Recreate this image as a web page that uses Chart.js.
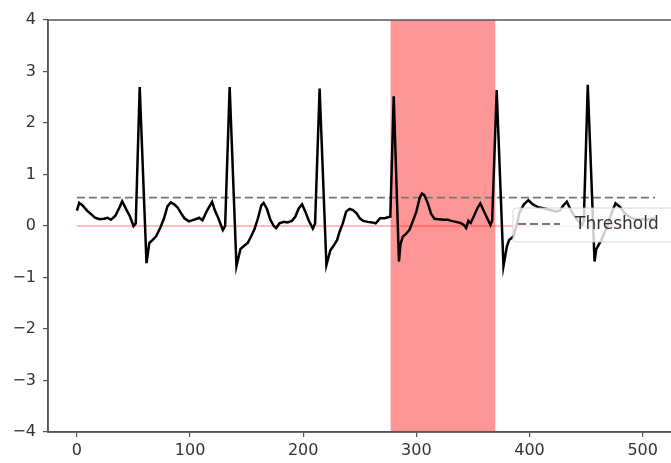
<!DOCTYPE html>
<html>
<head>
<meta charset="utf-8">
<script src="https://cdn.jsdelivr.net/npm/chart.js@4/dist/chart.umd.min.js"></script>
<style>
  html, body { margin: 0; padding: 0; background: #fff; overflow: hidden; }
</style>
</head>
<body>
<canvas id="graphCanvas" width="690" height="463"></canvas>
<script>
// ECG trace (sample index, value)
let ecgX = [0, 2, 5, 9, 13, 16, 20, 24, 27, 30, 34, 38, 40, 43, 47, 50, 52, 55.5, 61.5, 64, 67, 70, 74, 77, 80, 83, 86, 89, 92, 95, 99,
    103, 106, 108, 111, 115, 119.5, 122, 125, 129, 131, 135, 141, 144.5, 148, 151, 154, 157, 160, 163, 165, 168, 171, 174, 176,
    179, 183, 186, 190, 193, 196, 199, 202, 205, 208.5, 210.5, 214.5, 220.5, 224, 227, 230, 232, 235, 238, 241, 244, 247, 250,
    253, 257, 261, 264, 266, 268, 272, 275, 277, 280, 284.6, 286, 288, 291, 294, 297, 300, 303, 305, 307, 310, 313, 316, 320,
    324, 328, 331, 335, 339, 342, 344, 346, 348, 351, 354, 356.5, 359, 362, 365.5, 367, 371, 377, 380, 382, 386, 389, 391, 395,
    399, 403, 407, 411, 415, 420, 424, 427, 430, 433, 435, 438, 442, 446.5, 448, 451.5, 457.5, 459, 461, 464, 468.5, 472, 476,
    480, 484, 488, 492, 496, 500, 504, 508, 511];
let ecgY = [0.30, 0.45, 0.40, 0.30, 0.22, 0.16, 0.13, 0.14, 0.16, 0.12, 0.20, 0.38, 0.48, 0.35, 0.18, 0.00, 0.05, 2.70, -0.72, -0.33, -0.27, -0.20, -0.02, 0.15, 0.38, 0.46, 0.42, 0.36, 0.25, 0.15, 0.09,
    0.12, 0.14, 0.16, 0.11, 0.30, 0.47, 0.30, 0.15, -0.08, 0.00, 2.70, -0.78, -0.45, -0.38, -0.33, -0.20, -0.06, 0.15, 0.40, 0.45, 0.33, 0.12, 0.00, -0.04,
    0.05, 0.08, 0.07, 0.10, 0.18, 0.34, 0.42, 0.27, 0.10, -0.05, 0.05, 2.67, -0.76, -0.47, -0.38, -0.27, -0.12, 0.05, 0.28, 0.33, 0.31, 0.25, 0.15,
    0.10, 0.08, 0.07, 0.05, 0.10, 0.15, 0.15, 0.17, 0.18, 2.52, -0.69, -0.35, -0.21, -0.15, -0.07, 0.10, 0.28, 0.55, 0.63, 0.60, 0.45, 0.24, 0.14, 0.13,
    0.12, 0.12, 0.10, 0.08, 0.06, 0.02, -0.04, 0.10, 0.06, 0.20, 0.35, 0.44, 0.32, 0.18, 0.02, 0.10, 2.64, -0.78, -0.40, -0.27, -0.20, 0.05, 0.25, 0.42,
    0.50, 0.42, 0.37, 0.35, 0.33, 0.30, 0.28, 0.30, 0.40, 0.47, 0.38, 0.25, 0.12, 0.02, 0.10, 2.74, -0.69, -0.45, -0.37, -0.25, -0.01, 0.22, 0.44,
    0.37, 0.25, 0.18, 0.14, 0.12, 0.13, 0.12, 0.14, 0.15];

let threshold = 0.55;
let baseline = 0;
let traceStart = 0;
let traceEnd = 511;
let anomalyStart = 277; // red band
let anomalyEnd = 370;

let xTicks = [0, 100, 200, 300, 400, 500];
let yTicks = [-4, -3, -2, -1, 0, 1, 2, 3, 4];

let tickFont = { family: 'DejaVu Sans', size: 16 };
let axisColor = '#555';

let ecgPoints = [];
for (let i = 0; i < ecgX.length; i++) {
    ecgPoints.push({ x: ecgX[i], y: ecgY[i] });
}

// matplotlib style minus sign
function minusLabel(v) {
    return String(v).replace('-', '\u2212');
}

// frame round the plot (matplotlib spines)
let framePlugin = {
    id: 'frame',
    afterDatasetsDraw(chart) {
        let a = chart.chartArea;
        let c = chart.ctx;
        c.save();
        c.strokeStyle = axisColor;
        c.lineWidth = 1.5;
        c.strokeRect(a.left, a.top, a.right - a.left, a.bottom - a.top);
        c.restore();
    }
};

// legend box inside the axes
let legendPlugin = {
    id: 'boxLegend',
    afterDraw(chart) {
        let a = chart.chartArea;
        let c = chart.ctx;
        let ds = chart.data.datasets[1];
        let bx = a.right - 171, by = 208, bw = 164, bh = 34;
        c.save();
        c.fillStyle = 'rgba(255,255,255,0.8)';
        c.strokeStyle = 'rgba(204,204,204,0.8)';
        c.lineWidth = 1;
        c.beginPath();
        c.roundRect(bx, by, bw, bh, 3);
        c.fill();
        c.stroke();

        c.strokeStyle = ds.borderColor;
        c.lineWidth = ds.borderWidth;
        c.setLineDash(ds.borderDash);
        c.beginPath();
        c.moveTo(bx + 5, by + 16);
        c.lineTo(bx + 47, by + 16);
        c.stroke();
        c.setLineDash([]);

        c.fillStyle = '#333';
        c.font = '17px "DejaVu Sans"';
        c.textBaseline = 'middle';
        c.fillText(ds.label, bx + 62, by + 17);
        c.restore();
    }
};

let ctx = document.getElementById('graphCanvas').getContext('2d');
let chart = new Chart(ctx, {
    type: 'line',
    data: {
        datasets: [{
            label: 'ECG',
            data: ecgPoints,
            borderColor: '#000',
            borderWidth: 2.5,
            pointRadius: 0,
            tension: 0,
            fill: false
        }, {
            label: 'Threshold',
            data: [{ x: traceStart, y: threshold }, { x: traceEnd, y: threshold }],
            borderColor: '#777',
            borderWidth: 1.8,
            borderDash: [8, 4],
            pointRadius: 0,
            fill: false
        }, {
            label: 'Zero',
            data: [{ x: traceStart, y: baseline }, { x: traceEnd, y: baseline }],
            borderColor: 'rgba(255,0,0,0.35)',
            borderWidth: 1.5,
            pointRadius: 0,
            fill: false
        }, {
            label: 'Anomaly',
            data: [{ x: anomalyStart, y: yTicks[yTicks.length - 1] }, { x: anomalyEnd, y: yTicks[yTicks.length - 1] }],
            borderWidth: 0,
            borderColor: 'rgba(0,0,0,0)',
            backgroundColor: 'rgba(255,0,0,0.41)',
            pointRadius: 0,
            fill: 'start'
        }]
    },
    options: {
        responsive: false,
        animation: false,
        layout: { padding: { left: 0, right: 6, top: 20, bottom: 0 } },
        plugins: {
            legend: { display: false },
            tooltip: { enabled: false }
        },
        scales: {
            x: {
                type: 'linear',
                min: -25.55,
                max: 536.55,
                afterBuildTicks: (scale) => { scale.ticks = xTicks.map(v => ({ value: v })); },
                afterFit: (scale) => { scale.height = 31; },
                ticks: { color: '#333', font: tickFont, padding: 4, maxRotation: 0 },
                grid: { drawOnChartArea: false, drawTicks: true, tickLength: 5, color: axisColor, lineWidth: 1.2 },
                border: { display: true, color: axisColor, width: 1.5 }
            },
            y: {
                min: yTicks[0],
                max: yTicks[yTicks.length - 1],
                afterBuildTicks: (scale) => { scale.ticks = yTicks.map(v => ({ value: v })); },
                afterFit: (scale) => { scale.width = 48; },
                ticks: { color: '#333', font: tickFont, padding: 7, callback: (v) => minusLabel(v) },
                grid: { drawOnChartArea: false, drawTicks: true, tickLength: 5, color: axisColor, lineWidth: 1.2 },
                border: { display: true, color: axisColor, width: 1.5 }
            }
        }
    },
    plugins: [framePlugin, legendPlugin]
});
</script>
</body>
</html>
